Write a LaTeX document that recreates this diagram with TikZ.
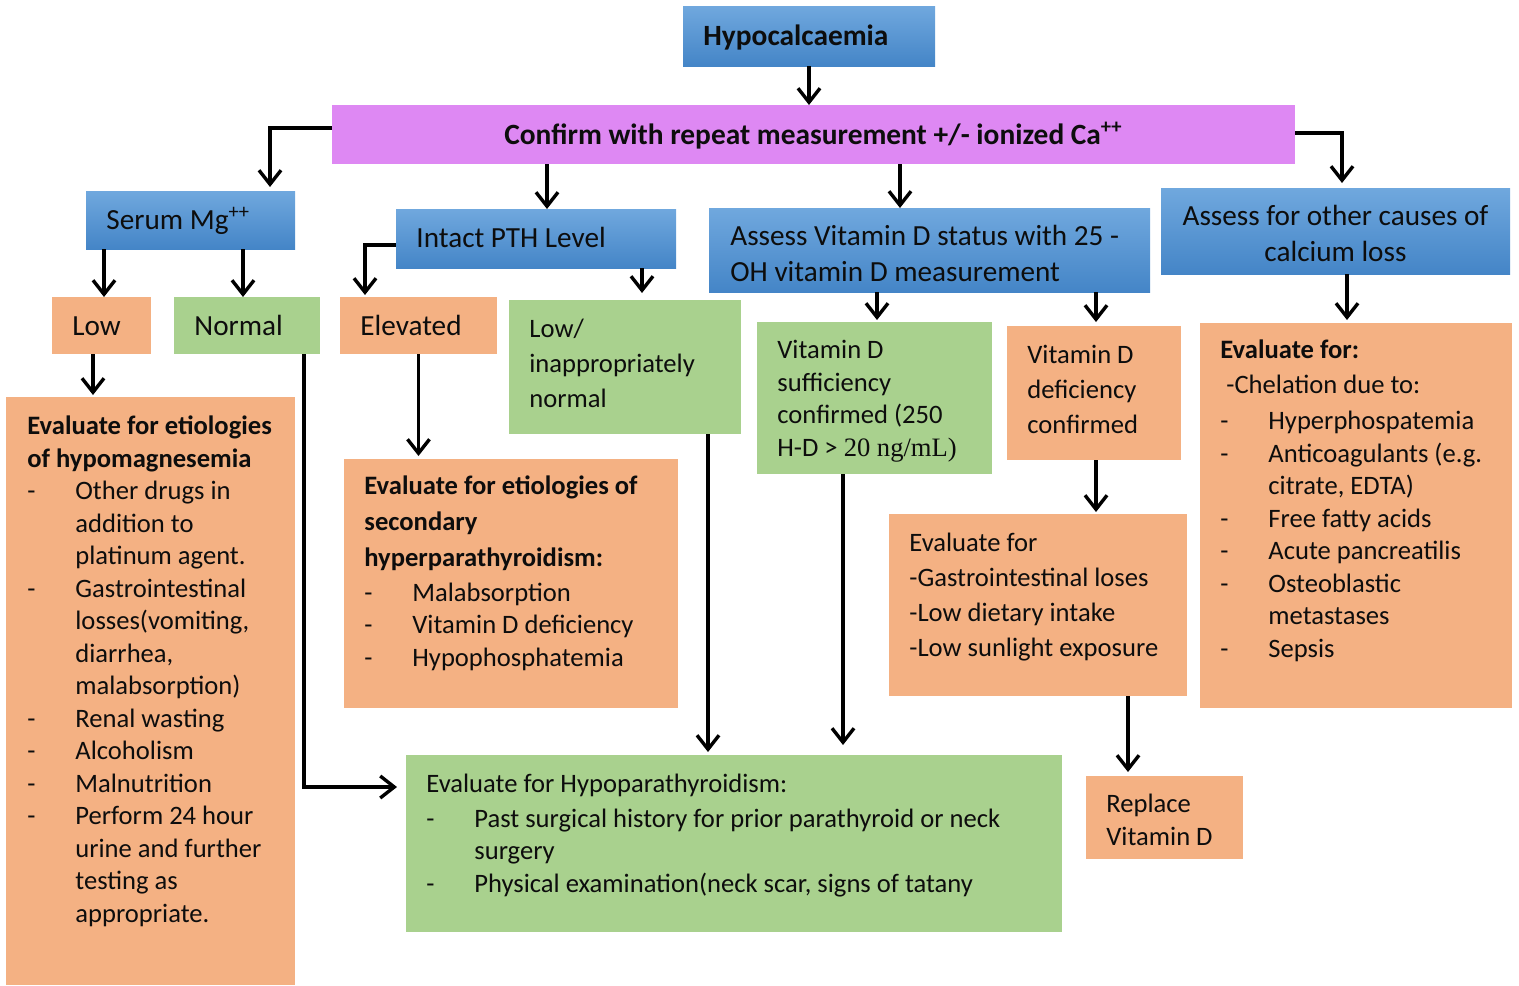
\documentclass[tikz,border=0pt]{standalone}
\usepackage{fontspec}
\setmainfont{Carlito}
\newfontfamily\serifpart{Liberation Serif}
\usetikzlibrary{positioning,arrows.meta}
\definecolor{colortext} {RGB}{13 ,13 ,13 }
\definecolor{bluetop}   {RGB}{112,168,222}
\definecolor{bluebot}   {RGB}{68 ,133,199}
\definecolor{pinkfill}  {RGB}{222,136,243}
\definecolor{orangefill}{RGB}{244,177,131}
\definecolor{greenfill} {RGB}{169,209,142}
\newcommand{\dashitem}{\makebox[24pt][l]{-}}
\newcommand{\dashcont}{\hspace*{24pt}}

\begin{document}
\begin{tikzpicture}[
    x=0.5pt, y=-0.5pt,
    box/.style={anchor=north west,inner sep=0pt,outer sep=0pt},
    bluebox/.style={box,top color=bluetop,bottom color=bluebot},
    pinkbox/.style={box,fill=pinkfill},
    orangebox/.style={box,fill=orangefill},
    greenbox/.style={box,fill=greenfill},
    % multi-line texts are placed by the baseline of their last line
    txt/.style={anchor=base west,yshift=-1pt,inner sep=0pt,align=left,text=colortext,font={\fontsize{13.3}{16.25}\selectfont}},
    txtwide/.style={txt,font={\fontsize{13.3}{17.5}\selectfont}},
    txtbig/.style={txt,font={\fontsize{14.6}{17.75}\selectfont}},
    txttitle/.style={txt,font={\fontsize{14.7}{17.75}\selectfont\bfseries}},
    arr/.style={line width=1.7pt,-{Straight Barb[length=7pt,width=11pt]}},
]
    \useasboundingbox (0,0) rectangle (1519,985);

    % boxes
    \node[bluebox,  minimum width=126pt,  minimum height=30pt]   (hypo)     at (683,6)   {};
    \node[pinkbox,  minimum width=481.5pt,minimum height=29.5pt] (confirm)  at (332,105) {};
    \node[bluebox,  minimum width=104.5pt,minimum height=29pt]   (mg)       at (86,191)  {};
    \node[bluebox,  minimum width=140pt,  minimum height=29.5pt] (pth)      at (396,209) {};
    \node[bluebox,  minimum width=220.5pt,minimum height=42pt]   (vitd)     at (709,208) {};
    \node[bluebox,  minimum width=174.5pt,minimum height=43pt]   (other)    at (1161,188){};
    \node[orangebox,minimum width=49.5pt, minimum height=28.5pt] (low)      at (52,297)  {};
    \node[greenbox, minimum width=73pt,   minimum height=28.5pt] (normal)   at (174,297) {};
    \node[orangebox,minimum width=78.5pt, minimum height=28.5pt] (elev)     at (340,297) {};
    \node[greenbox, minimum width=116pt,  minimum height=67pt]   (lowinapp) at (509,300) {};
    \node[orangebox,minimum width=144.5pt,minimum height=294pt]  (hypomag)  at (6,397)   {};
    \node[orangebox,minimum width=167pt,  minimum height=124.5pt](secpth)   at (344,459) {};
    \node[greenbox, minimum width=117.5pt,minimum height=76pt]   (suff)     at (757,322) {};
    \node[orangebox,minimum width=87pt,   minimum height=67pt]   (defic)    at (1007,326){};
    \node[orangebox,minimum width=149pt,  minimum height=91pt]   (gi)       at (889,514) {};
    \node[orangebox,minimum width=78.5pt, minimum height=41.5pt] (replace)  at (1086,776){};
    \node[orangebox,minimum width=156pt,  minimum height=192.5pt](chel)     at (1200,323){};
    \node[greenbox, minimum width=328pt,  minimum height=88.5pt] (hypopara) at (406,755) {};

    % texts
    \node[txttitle] (hypotxt) at (703,43) {Hypocalcaemia};
    \node[txttitle,anchor=base] (confirmtxt) at (813.5,142)
        {Confirm with repeat measurement +/- ionized Ca\textsuperscript{++}};
    \node[txtbig] (mgtxt)  at (106,227) {Serum Mg\textsuperscript{++}};
    \node[txtbig] (pthtxt) at (416,245) {Intact PTH Level};
    \node[txtbig] (vitdtxt) at (730,279) {Assess Vitamin D status with 25 -\\OH vitamin D measurement};
    \node[txtbig,anchor=base,align=center,font={\fontsize{14.6}{18}\selectfont}] (othertxt) at (1335.5,259)
        {Assess for other causes of\\calcium loss};
    \node[txtbig] (lowtxt)    at (72,333)  {Low};
    \node[txtbig] (normaltxt) at (194,333) {Normal};
    \node[txtbig] (elevtxt)   at (360,333) {Elevated};
    \node[txtwide] (lowinapptxt) at (529,405) {Low/\\inappropriately\\normal};
    \node[txt] (sufftxt)  at (777,454)
        {Vitamin D\\sufficiency\\confirmed (250\\H-D > {\serifpart 20 ng/mL)}};
    \node[txtwide] (defictxt) at (1027,431) {Vitamin D\\deficiency\\confirmed};
    \node[txtwide] (gitxt)    at (909,654)
        {Evaluate for\\{-}Gastrointestinal loses\\{-}Low dietary intake\\{-}Low sunlight exposure};
    \node[txt] (replacetxt) at (1106,843) {Replace\\Vitamin D};
    \node[txt] (cheltxt) at (1220,655)
        {\textbf{Evaluate for:}\\[1.5pt]
         \hspace*{3pt}{-}Chelation due to:\\[1.75pt]
         \dashitem Hyperphospatemia\\
         \dashitem Anticoagulants (e.g.\\
         \dashcont citrate, EDTA)\\
         \dashitem Free fatty acids\\
         \dashitem Acute pancreatilis\\
         \dashitem Osteoblastic\\
         \dashcont metastases\\
         \dashitem Sepsis};
    \node[txt] (hypomagtxt) at (27,920)
        {\textbf{Evaluate for etiologies}\\
         \textbf{of hypomagnesemia}\\
         \dashitem Other drugs in\\
         \dashcont addition to\\
         \dashcont platinum agent.\\
         \dashitem Gastrointestinal\\
         \dashcont losses(vomiting,\\
         \dashcont diarrhea,\\
         \dashcont malabsorption)\\
         \dashitem Renal wasting\\
         \dashitem Alcoholism\\
         \dashitem Malnutrition\\
         \dashitem Perform 24 hour\\
         \dashcont urine and further\\
         \dashcont testing as\\
         \dashcont appropriate.};
    \node[txt] (secpthtxt) at (364,664)
        {\textbf{Evaluate for etiologies of}\\[1.75pt]
         \textbf{secondary}\\[1.75pt]
         \textbf{hyperparathyroidism:}\\[1.25pt]
         \dashitem Malabsorption\\
         \dashitem Vitamin D deficiency\\
         \dashitem Hypophosphatemia};
    \node[txt] (hypoparatxt) at (426,890)
        {Evaluate for Hypoparathyroidism:\\[1.25pt]
         \dashitem Past surgical history for prior parathyroid or neck\\
         \dashcont surgery\\
         \dashitem Physical examination(neck scar, signs of tatany};

    % connectors
    \draw[arr] (hypo.south) -- (hypo.south |- confirm.north);
    \draw[arr] ([yshift=3.25pt]confirm.west) -| ([xshift=39.75pt,yshift=2pt]mg.north);
    \draw[arr] ([yshift=0.75pt]confirm.east) -| ([xshift=3.25pt,yshift=2.5pt]other.north);
    \draw[arr] ([xshift=5.5pt]pth.north |- confirm.south) -- ([xshift=5.5pt]pth.north);
    \draw[arr] ([xshift=-14.75pt]vitd.north |- confirm.south) -- ([xshift=-14.75pt]vitd.north);
    \draw[arr] ([xshift=1.25pt]low.north |- mg.south) -- ([xshift=1.25pt]low.north);
    \draw[arr] ([xshift=-2pt]normal.north |- mg.south) -- ([xshift=-2pt]normal.north);
    \draw[arr] ([xshift=-4.25pt]low.south) -- ([xshift=-4.25pt,yshift=1pt]low.south |- hypomag.north);
    \draw[arr] ([xshift=-8pt]normal.south east) |- ([xshift=-4.5pt,yshift=28.25pt]hypopara.west);
    \draw[arr] ([yshift=-3.25pt]pth.west) -| ([xshift=-26.75pt,yshift=1pt]elev.north);
    \draw[arr] ([xshift=8.5pt]lowinapp.north |- pth.south) -- ([xshift=8.5pt,yshift=3.5pt]lowinapp.north);
    \draw[arr] (elev.south) -- ([yshift=1.5pt]elev.south |- secpth.north);
    \draw[arr] ([xshift=41.5pt]lowinapp.south) -- ([xshift=41.5pt,yshift=1.5pt]lowinapp.south |- hypopara.north);
    \draw[arr] ([xshift=1.25pt]suff.north |- vitd.south) -- ([xshift=1.25pt,yshift=1pt]suff.north);
    \draw[arr] ([xshift=1pt]defic.north |- vitd.south) -- ([xshift=1pt,yshift=2pt]defic.north);
    \draw[arr] ([xshift=-15.75pt]suff.south) -- ([xshift=-15.75pt,yshift=5pt]suff.south |- hypopara.north);
    \draw[arr] ([xshift=1pt]defic.south) -- ([xshift=1pt,yshift=1pt]defic.south |- gi.north);
    \draw[arr] ([xshift=-18.25pt]replace.north |- gi.south) -- ([xshift=-18.25pt,yshift=2pt]replace.north);
    \draw[arr] ([xshift=-4.5pt]chel.north |- other.south) -- ([xshift=-4.5pt,yshift=1.5pt]chel.north);

\end{tikzpicture}
\end{document}
